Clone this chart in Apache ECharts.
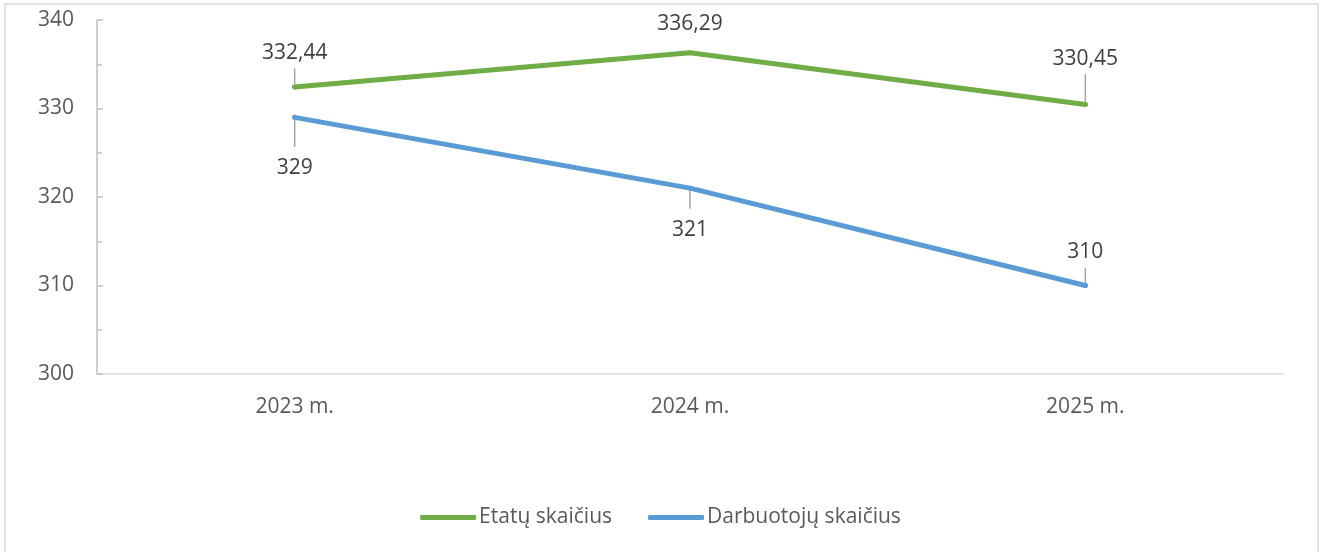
<!DOCTYPE html>
<html>
<head>
<meta charset="utf-8">
<title>Etatų ir darbuotojų skaičius</title>
<script src="https://cdn.jsdelivr.net/npm/echarts@6/dist/echarts.min.js"></script>
<style>
  body { margin: 0; background: #fff; }
  #chart { width: 1321px; height: 552px; }
</style>
</head>
<body>
<div id="chart"></div>
<script type="text/javascript">
// duomenys
var years = ['2023 m.', '2024 m.', '2025 m.'];
var etatai = [332.44, 336.29, 330.45];
var darbuotojai = [329, 321, 310];
var yTicks = [300, 310, 320, 330, 340];

// etikečių padėtis: [pozicija, atstumas, linijos ilgis, tarpas iki teksto]
var etataiLabelPos = [['top', 0, 16, 3], ['top', 14, 0, 0], ['top', 0, 28, 3]];
var darbLabelPos = [['bottom', 0, 27, 9], ['bottom', 0, 18, 9], ['top', 0, 15, 4]];

var font = 'Open Sans';
var fs = 21;

function withLabels(vals, pos) {
    return vals.map(function (v, i) {
        var p = pos[i];
        var txt = '{t|' + String(v).replace('.', ',') + '}';
        var str = txt;
        if (p[2] > 0) {
            var line = '{l|}';
            var gap = '{s|}';
            str = p[0] === 'top' ? [txt, gap, line].join('\n') : [line, gap, txt].join('\n');
        }
        return {
            value: v,
            label: {
                position: p[0],
                distance: p[1],
                formatter: str,
                rich: {
                    t: { fontFamily: font, fontSize: fs, color: '#404040', lineHeight: 24 },
                    s: { height: p[3], lineHeight: p[3] },
                    l: { width: 1.5, height: p[2], lineHeight: p[2], backgroundColor: '#a6a6a6' }
                }
            }
        };
    });
}

var chart = echarts.init(document.getElementById('chart'));

var option = {
    animation: false,
    // rėmelis
    graphic: [{
        type: 'rect',
        shape: { x: 5, y: 4, width: 1313, height: 560 },
        style: { fill: 'none', stroke: '#d9d9d9', lineWidth: 1.5 },
        silent: true
    }],
    grid: { left: 97, right: 38, top: 20, bottom: 178 },
    legend: {
        bottom: 19,
        left: 'center',
        itemWidth: 56,
        itemHeight: 5,
        itemGap: 36,
        icon: 'roundRect',
        textStyle: { fontFamily: font, fontSize: fs, color: '#595959', padding: [0, 0, 0, -2] },
        data: ['Etatų skaičius', 'Darbuotojų skaičius']
    },
    xAxis: {
        type: 'category',
        data: years,
        boundaryGap: true,
        axisLine: { lineStyle: { color: '#d9d9d9', width: 1.5 } },
        axisTick: { show: false },
        axisLabel: { fontFamily: font, fontSize: fs, color: '#595959', margin: 23 }
    },
    yAxis: {
        type: 'value',
        min: yTicks[0],
        max: yTicks[yTicks.length - 1],
        interval: 10,
        splitLine: { show: false },
        axisLine: { show: true, lineStyle: { color: '#bfbfbf', width: 1.5 } },
        axisTick: { show: true, inside: true, length: 6, lineStyle: { color: '#bfbfbf', width: 1.5 } },
        minorTick: { show: true, splitNumber: 2, length: 5, lineStyle: { color: '#bfbfbf', width: 1.5 } },
        axisLabel: { fontFamily: font, fontSize: fs, color: '#595959', margin: 23 }
    },
    series: [
        {
            name: 'Etatų skaičius',
            type: 'line',
            data: withLabels(etatai, etataiLabelPos),
            symbol: 'circle',
            symbolSize: 5,
            lineStyle: { width: 5, color: '#70ad47', cap: 'round' },
            itemStyle: { color: '#70ad47' },
            label: { show: true },
            z: 3
        },
        {
            name: 'Darbuotojų skaičius',
            type: 'line',
            data: withLabels(darbuotojai, darbLabelPos),
            symbol: 'circle',
            symbolSize: 5,
            lineStyle: { width: 5, color: '#5b9bd5', cap: 'round' },
            itemStyle: { color: '#5b9bd5' },
            label: { show: true },
            z: 3
        }
    ]
};

chart.setOption(option);
</script>
</body>
</html>
